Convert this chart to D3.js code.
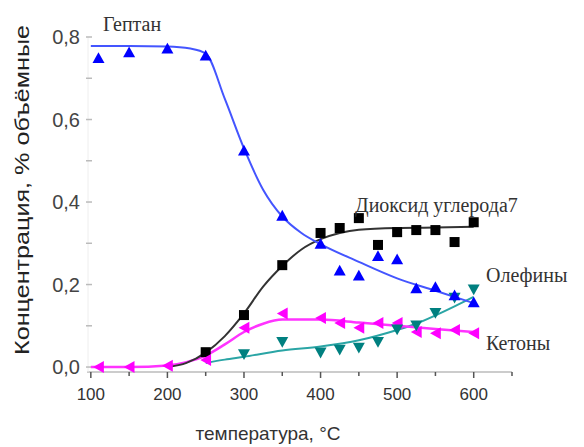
<!DOCTYPE html>
<html><head><meta charset="utf-8">
<script src="https://cdn.jsdelivr.net/npm/d3@7"></script>
<style>body{margin:0;background:#fff}</style>
</head><body>
<svg id="c" width="584" height="447"></svg>
<script>
// Temperatures, °C
const temps = [110,150,200,250,300,350,400,425,450,475,500,525,550,575,600];
// Measured concentrations, % vol
const heptane = [0.750,0.764,0.773,0.756,0.526,0.368,0.300,0.235,0.223,0.270,0.262,0.192,0.195,0.175,0.158];
const ketones = [0.000,0.000,0.003,0.017,0.095,0.130,0.119,0.107,0.095,0.107,0.107,0.085,0.082,0.090,0.082];
const co2T = [250,300,350,400,425,450,475,500,525,550,575,600];
const co2  = [0.036,0.126,0.247,0.325,0.337,0.361,0.296,0.327,0.332,0.332,0.303,0.351];
const olefinsT = [300,350,400,425,450,475,500,525,550,575,600];
const olefins  = [0.030,0.060,0.034,0.041,0.046,0.060,0.090,0.100,0.130,0.167,0.187];
// Fitted curves
const heptFitT = [100,150,200,230,250,275,300,325,350,375,400,450,500,550,600];
const heptFit  = [0.778,0.778,0.777,0.772,0.760,0.650,0.530,0.430,0.365,0.325,0.298,0.255,0.215,0.185,0.155];
const co2FitT = [200,225,250,275,300,325,350,375,400,425,450,500,550,600];
const co2Fit  = [0.000,0.010,0.035,0.075,0.130,0.195,0.245,0.285,0.310,0.325,0.333,0.337,0.338,0.340];
const ketFitT = [100,150,200,225,250,275,300,325,350,400,450,500,550,600];
const ketFit  = [0.000,0.000,0.004,0.012,0.028,0.055,0.085,0.105,0.115,0.115,0.108,0.100,0.092,0.085];
const olFitT = [250,275,300,350,400,450,500,525,550,575,600];
const olFit  = [0.010,0.018,0.025,0.040,0.050,0.065,0.090,0.105,0.125,0.147,0.170];
const xTicks = [100,200,300,400,500,600];
const yTicks = [0,0.2,0.4,0.6,0.8];

const svg = d3.select("#c");
const x = d3.scaleLinear().domain([95,650]).range([87,512]);
const y = d3.scaleLinear().domain([-0.012,0.8]).range([372,37]);

// axes
const xAxis = svg.append("g").attr("transform","translate(0,372)");
xAxis.append("line").attr("x1",87).attr("x2",512).attr("stroke","#ccc").attr("stroke-width",2);
const xMinor = d3.range(100,651,50);
xAxis.selectAll(".xt").data(xMinor).join("line")
  .attr("x1",d=>x(d)).attr("x2",d=>x(d)).attr("y1",0).attr("y2",d=>d%100===0?6:4)
  .attr("stroke","#555").attr("stroke-width",1.5);
xAxis.selectAll(".xl").data(xTicks).join("text")
  .attr("x",d=>x(d)).attr("y",28).attr("text-anchor","middle")
  .attr("font-family","Liberation Sans Narrow, Liberation Sans, sans-serif").attr("font-size",17).attr("fill","#333")
  .text(d=>d);

const yAxis = svg.append("g");
yAxis.append("line").attr("x1",88).attr("x2",88).attr("y1",372).attr("y2",37).attr("stroke","#eee").attr("stroke-width",1);
yAxis.selectAll(".yt").data(d3.range(0,0.81,0.1)).join("line")
  .attr("x1",86).attr("x2",92).attr("y1",d=>y(d)).attr("y2",d=>y(d))
  .attr("stroke","#bbb").attr("stroke-width",1.5);
yAxis.selectAll(".yl").data(yTicks).join("text")
  .attr("x",80).attr("y",d=>y(d)+7).attr("text-anchor","end")
  .attr("font-family","Liberation Sans, sans-serif").attr("font-size",20).attr("fill","#444")
  .text(d=>d3.format(".1f")(d).replace(".",","));

// titles
svg.append("text").attr("transform","translate(29,190) rotate(-90)").attr("text-anchor","middle")
  .attr("font-family","Liberation Sans Narrow, Liberation Sans, sans-serif").attr("font-size",20).attr("fill","#222")
  .attr("textLength",330).attr("lengthAdjust","spacingAndGlyphs")
  .text("Концентрация, % объёмные");
svg.append("text").attr("x",268).attr("y",440).attr("text-anchor","middle")
  .attr("font-family","Liberation Sans Narrow, Liberation Sans, sans-serif").attr("font-size",19).attr("fill","#333")
  .text("температура, °С");

const line = d3.line().curve(d3.curveMonotoneX);
function fit(ts, vs, color, w){
  svg.append("path").attr("d",line(ts.map((t,i)=>[x(t),y(vs[i])])))
    .attr("fill","none").attr("stroke",color).attr("stroke-width",w);
}
fit(olFitT, olFit, "#2aa5a5", 2);
fit(ketFitT, ketFit, "#ff33ff", 2.5);
fit(co2FitT, co2Fit, "#333", 2);
fit(heptFitT, heptFit, "#4455ff", 2);

function tri(cx, cy, s, dir){
  const h = s*0.9;
  if(dir==="up") return `M${cx},${cy-h/2}L${cx+s/2},${cy+h/2}L${cx-s/2},${cy+h/2}Z`;
  if(dir==="down") return `M${cx},${cy+h/2}L${cx+s/2},${cy-h/2}L${cx-s/2},${cy-h/2}Z`;
  if(dir==="left") return `M${cx-h/2},${cy}L${cx+h/2},${cy-s/2}L${cx+h/2},${cy+s/2}Z`;
}
// markers
svg.selectAll(".co2").data(co2).join("rect")
  .attr("x",(d,i)=>x(co2T[i])-5).attr("y",d=>y(d)-5).attr("width",10).attr("height",10).attr("fill","#000");
svg.selectAll(".ket").data(ketones).join("path")
  .attr("d",(d,i)=>tri(x(temps[i]),y(d),12,"left")).attr("fill","#ff00ff");
svg.selectAll(".ol").data(olefins).join("path")
  .attr("d",(d,i)=>tri(x(olefinsT[i]),y(d),12,"down")).attr("fill","#008080");
svg.selectAll(".hp").data(heptane).join("path")
  .attr("d",(d,i)=>tri(x(temps[i]),y(d),12,"up")).attr("fill","#0000ff");

// labels
const lab = (t,xx,yy)=>svg.append("text").attr("x",xx).attr("y",yy)
  .attr("font-family","Liberation Serif, serif").attr("font-size",20).attr("fill","#333").text(t);
lab("Гептан",103,31);
lab("Диоксид углерода7",355,212);
lab("Олефины",486,282);
lab("Кетоны",486,350);
</script>
</body></html>
